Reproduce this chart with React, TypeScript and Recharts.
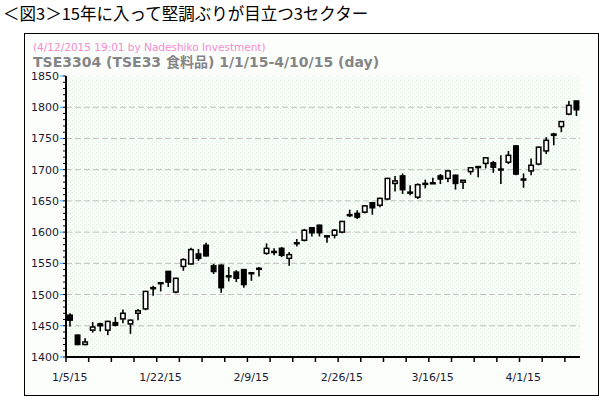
import { Bar, CartesianGrid, ComposedChart, XAxis, YAxis } from "recharts";

// trading days, 1/5/15 - 4/10/15
const dates = [
  "1/5/15", "1/6/15", "1/7/15", "1/8/15", "1/9/15", "1/13/15", "1/14/15", "1/15/15", "1/16/15", "1/19/15",
  "1/20/15", "1/21/15", "1/22/15", "1/23/15", "1/26/15", "1/27/15", "1/28/15", "1/29/15", "1/30/15", "2/2/15",
  "2/3/15", "2/4/15", "2/5/15", "2/6/15", "2/9/15", "2/10/15", "2/12/15", "2/13/15", "2/16/15", "2/17/15",
  "2/18/15", "2/19/15", "2/20/15", "2/23/15", "2/24/15", "2/25/15", "2/26/15", "2/27/15", "3/2/15", "3/3/15",
  "3/4/15", "3/5/15", "3/6/15", "3/9/15", "3/10/15", "3/11/15", "3/12/15", "3/13/15", "3/16/15", "3/17/15",
  "3/18/15", "3/19/15", "3/20/15", "3/23/15", "3/24/15", "3/25/15", "3/26/15", "3/27/15", "3/30/15", "3/31/15",
  "4/1/15", "4/2/15", "4/3/15", "4/6/15", "4/7/15", "4/8/15", "4/9/15", "4/10/15"
];

const opens = [
  1467, 1435, 1420, 1443, 1453, 1443, 1455, 1461, 1453, 1470,
  1477, 1510, 1518, 1537, 1504, 1545, 1549, 1565, 1579, 1546,
  1547, 1530, 1536, 1540, 1534, 1541, 1566, 1568, 1574, 1558,
  1582, 1587, 1607, 1611, 1593, 1595, 1600, 1627, 1630, 1632,
  1647, 1643, 1653, 1678, 1690, 1663, 1656, 1677, 1678, 1690,
  1686, 1691, 1680, 1697, 1704, 1710, 1711, 1700, 1712, 1738,
  1684, 1698, 1709, 1730, 1757, 1769, 1789, 1810
];
const highs = [
  1470, 1436, 1430, 1456, 1455, 1458, 1464, 1476, 1460, 1477,
  1506, 1514, 1520, 1538, 1527, 1558, 1575, 1573, 1583, 1549,
  1548, 1544, 1539, 1541, 1535, 1544, 1582, 1574, 1576, 1568,
  1589, 1605, 1608, 1612, 1594, 1605, 1618, 1636, 1635, 1643,
  1647, 1655, 1687, 1690, 1694, 1675, 1678, 1684, 1687, 1693,
  1699, 1692, 1683, 1704, 1705, 1720, 1714, 1723, 1730, 1739,
  1694, 1718, 1737, 1752, 1759, 1778, 1810, 1810
];
const lows = [
  1449, 1419, 1419, 1439, 1441, 1435, 1449, 1454, 1437, 1459,
  1475, 1498, 1505, 1512, 1502, 1538, 1548, 1554, 1561, 1533,
  1503, 1521, 1520, 1511, 1522, 1529, 1564, 1563, 1560, 1546,
  1577, 1585, 1593, 1593, 1583, 1590, 1598, 1624, 1621, 1630,
  1628, 1640, 1651, 1665, 1661, 1659, 1653, 1670, 1677, 1677,
  1680, 1668, 1669, 1692, 1688, 1702, 1695, 1677, 1709, 1691,
  1671, 1691, 1707, 1725, 1739, 1760, 1787, 1786
];
const closes = [
  1459, 1420, 1424, 1448, 1450, 1457, 1451, 1470, 1459, 1474,
  1505, 1511, 1519, 1520, 1526, 1556, 1572, 1558, 1562, 1537,
  1511, 1529, 1526, 1516, 1535, 1542, 1574, 1569, 1563, 1564,
  1583, 1603, 1599, 1599, 1594, 1603, 1617, 1628, 1624, 1642,
  1639, 1654, 1686, 1682, 1668, 1664, 1676, 1678, 1679, 1685,
  1698, 1678, 1683, 1703, 1705, 1719, 1704, 1701, 1723, 1693,
  1685, 1707, 1736, 1747, 1755, 1777, 1803, 1796
];

const labelEvery = 12;
const tickEvery = 3;
const yDomain = [1400, 1850];
const yMajor = [1400, 1450, 1500, 1550, 1600, 1650, 1700, 1750, 1800, 1850];
const gridLevels = [1450, 1500, 1550, 1600, 1650, 1700, 1750, 1800];
const yTicks = Array.from({ length: 46 }, (_, i) => 1400 + i * 10);

const data = dates.map((label, i) => ({
  label,
  open: opens[i],
  high: highs[i],
  low: lows[i],
  close: closes[i]
}));

const axisFont = '"DejaVu Sans", Verdana, sans-serif';

function Candle(props: any) {
  const { x, y, width, height, payload } = props;
  if (!payload || height == null) return null;
  const { open, close, high, low } = payload;
  const unit = height / Math.max(high - low, 0.001);
  const at = (v: number) => y + (high - v) * unit;
  const top = at(Math.max(open, close));
  const bottom = at(Math.min(open, close));
  const up = close >= open;
  const cx = x + width / 2;
  return (
    <g>
      <line x1={cx} x2={cx} y1={y} y2={y + height} stroke="#000" strokeWidth={1.6} />
      <rect
        x={x + 0.75}
        y={top}
        width={width - 1.5}
        height={Math.max(bottom - top, 1)}
        fill={up ? "#fff" : "#000"}
        stroke="#000"
        strokeWidth={1.5}
      />
    </g>
  );
}

function XTick(props: any) {
  const { x, y, payload } = props;
  const index = payload.index ?? 0;
  const half = payload.offset ?? 3.78;
  return (
    <g>
      {index % tickEvery === 0 && (
        <line x1={x - half} x2={x - half} y1={y} y2={y + 5} stroke="#000" strokeWidth={1.5} />
      )}
      {index % labelEvery === 0 && (
        <text x={x} y={y + 24} textAnchor="middle" fontSize={11} fontFamily={axisFont} fill="#1a1a33">
          {payload.value}
        </text>
      )}
    </g>
  );
}

function YTick(props: any) {
  const { x, y, payload } = props;
  const major = yMajor.includes(payload.value);
  return (
    <g>
      <line x1={x - 3} x2={x} y1={y} y2={y} stroke="#000" strokeWidth={1} />
      {major && <line x1={x - 6} x2={x - 3} y1={y} y2={y} stroke="#3aa0ff" strokeWidth={1} />}
      {major && (
        <text x={x - 7} y={y + 4} textAnchor="end" fontSize={11} fontFamily={axisFont} fill="#1a1a33">
          {payload.value}
        </text>
      )}
    </g>
  );
}

export default function App() {
  return (
    <div
      style={{
        position: "absolute",
        left: 0,
        top: 0,
        width: 599,
        height: 397,
        background: "#fff",
        overflow: "hidden"
      }}
    >
      <svg width={0} height={0} style={{ position: "absolute" }}>
        <defs>
          <pattern id="dots" width={4} height={4} patternUnits="userSpaceOnUse">
            <rect width={4} height={4} fill="#fcfefc" />
            <rect x={0} y={0} width={1} height={1} fill="#d6f0d6" />
            <rect x={2} y={2} width={1} height={1} fill="#d6f0d6" />
          </pattern>
        </defs>
      </svg>
      <div
        style={{
          position: "absolute",
          left: 3,
          top: 3,
          fontFamily: '"Noto Sans CJK JP", sans-serif',
          fontSize: 16.5,
          lineHeight: "20px",
          color: "#000",
          whiteSpace: "nowrap"
        }}
      >
        ＜図3＞15年に入って堅調ぶりが目立つ3セクター
      </div>
      <div
        style={{
          position: "absolute",
          left: 24,
          top: 33,
          width: 573,
          height: 361,
          border: "1px solid #000",
          background: "#fcfefc"
        }}
      />
      <div
        style={{
          position: "absolute",
          left: 33,
          top: 40,
          fontFamily: axisFont,
          fontSize: 10.5,
          lineHeight: "14px",
          color: "#f48ccc",
          whiteSpace: "nowrap"
        }}
      >
        (4/12/2015 19:01 by Nadeshiko Investment)
      </div>
      <div
        style={{
          position: "absolute",
          left: 33,
          top: 54,
          fontFamily: '"DejaVu Sans", "Noto Sans CJK JP", sans-serif',
          fontSize: 14,
          fontWeight: 700,
          lineHeight: "17px",
          color: "#858585",
          whiteSpace: "nowrap"
        }}
      >
        TSE3304 (TSE33 食料品) 1/1/15-4/10/15 (day)
      </div>
      <div style={{ position: "absolute", left: 0, top: 0 }}>
        <ComposedChart
          width={599}
          height={397}
          data={data}
          margin={{ top: 76, right: 19, bottom: 0, left: 0 }}
        >
          <CartesianGrid
            xAxisId="main"
            yAxisId="main"
            vertical={false}
            horizontalValues={gridLevels}
            stroke="#bdbdbd"
            strokeDasharray="6 3"
            fill="url(#dots)"
            fillOpacity={1}
          />
          <XAxis
            xAxisId="main"
            dataKey="label"
            type="category"
            interval={0}
            height={40}
            tickSize={0}
            tickMargin={0}
            tickLine={false}
            axisLine={{ stroke: "#000", strokeWidth: 2 }}
            tick={<XTick />}
          />
          <XAxis
            xAxisId="top"
            dataKey="label"
            orientation="top"
            height={0}
            tick={false}
            tickLine={false}
            axisLine={{ stroke: "#8c8c8c", strokeWidth: 1.5 }}
          />
          <YAxis
            yAxisId="main"
            type="number"
            domain={yDomain}
            ticks={yTicks}
            interval={0}
            width={66}
            tickSize={0}
            tickMargin={0}
            tickLine={false}
            axisLine={{ stroke: "#000", strokeWidth: 2 }}
            tick={<YTick />}
          />
          <YAxis
            yAxisId="right"
            orientation="right"
            domain={yDomain}
            width={0}
            tick={false}
            tickLine={false}
            axisLine={{ stroke: "#8c8c8c", strokeWidth: 1.5 }}
          />
          <Bar
            xAxisId="main"
            yAxisId="main"
            dataKey={(d: any) => [d.low, d.high]}
            barSize={6}
            shape={<Candle />}
            isAnimationActive={false}
          />
        </ComposedChart>
      </div>
    </div>
  );
}
